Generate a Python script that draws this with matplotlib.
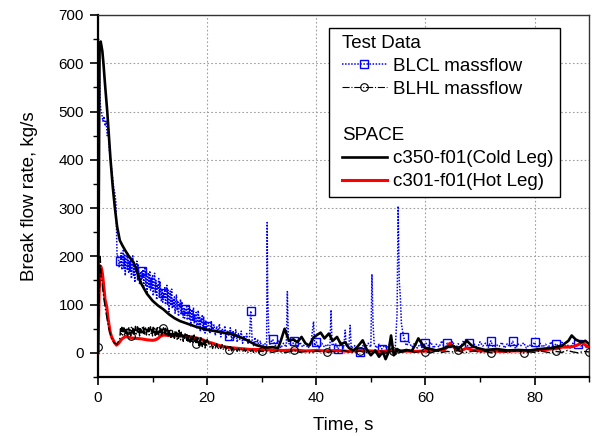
import numpy as np
import matplotlib
matplotlib.use("Agg")
import matplotlib.pyplot as plt
from matplotlib.lines import Line2D
from matplotlib.text import Text
from matplotlib.legend_handler import HandlerLine2D
from matplotlib.ticker import MultipleLocator

plt.rcParams['font.family'] = ['Liberation Sans', 'DejaVu Sans']

# ---- test data: BLCL massflow (blue, noisy) ----
t_blcl_a = [0, 0.1, 0.2, 0.3, 0.4, 0.5, 0.7, 0.9, 1.1, 1.3, 1.5, 1.7, 1.9, 2.1, 2.3, 2.5, 2.7, 2.9, 3.1, 3.3, 3.5]
v_blcl_a = [10, 650, 610, 560, 520, 505, 495, 480, 490, 470, 480, 450, 460, 420, 400, 380, 360, 340, 330, 310, 200]
t_blcl_b = np.arange(3.75, 20.001, 0.125)
v_blcl_b = [202, 177, 190, 187, 207, 172, 197, 212,
            175, 205, 160, 193, 203, 173, 207, 167,
            191, 168, 196, 154, 181, 201, 161, 186,
            146, 178, 170, 190, 150, 184, 160, 142,
            168, 143, 170, 153, 173, 138, 163, 178,
            138, 168, 123, 156, 166, 136, 170, 130,
            155, 132, 160, 118, 145, 165, 125, 150,
            110, 142, 134, 154, 114, 148, 124, 106,
            130, 105, 125, 115, 135, 100, 125, 140,
            100, 130, 85, 118, 128, 98, 132, 92,
            112, 94, 116, 82, 104, 120, 88, 108,
            76, 102, 95, 111, 79, 106, 87, 73,
            92, 72, 90, 80, 96, 68, 88, 100,
            68, 92, 56, 82, 90, 66, 94, 62,
            80, 62, 84, 50, 72, 88, 56, 76,
            44, 70, 63, 79, 47, 74, 55, 41,
            66, 48, 55]
t_blcl_c = np.arange(20.25, 30.001, 0.25)
v_blcl_c = [62, 40, 66, 45, 58, 36, 55, 42, 60, 33,
            50, 38, 56, 30, 47, 35, 52, 26, 44, 30,
            48, 22, 40, 28, 45, 20, 36, 24, 40, 18,
            30, 87, 26, 15, 32, 14, 28, 12, 24, 12]
t_blcl_d = [30.5, 30.9, 31.0, 31.1, 31.3, 31.5, 32.0, 32.5, 33.0, 33.5, 34.0, 34.5,
            34.7, 34.9, 35.5, 36.0, 36.5, 37.0, 37.5, 38.0, 38.5, 39.0, 39.5, 39.7,
            40.0, 40.5, 41.0, 41.5, 42.0, 42.5, 42.7, 42.9, 43.5, 44.0, 44.5, 45.0,
            45.3, 45.5, 46.0, 46.2, 46.4, 47.0, 47.5, 48.0, 48.5, 49.0, 49.5, 50.0,
            50.2, 50.4, 50.6, 51.0, 51.5, 52.0, 52.5, 53.0, 53.5, 54.0, 54.5, 54.8,
            55.0, 55.2, 55.4, 55.6, 56.0, 56.5, 57.0, 57.5, 58.0, 58.5, 59.0, 59.5, 60.0]
v_blcl_d = [20, 15, 270, 120, 40, 18, 28, 15, 25, 10, 20, 12,
            127, 20, 15, 25, 10, 22, 12, 20, 10, 18, 65, 15,
            22, 10, 20, 12, 18, 10, 89, 15, 20, 8, 22, 10,
            47, 12, 18, 57, 10, 15, 8, 2, 15, 10, 20, 12,
            163, 60, 20, 10, 18, 8, 15, 10, 20, 12, 15, 80,
            304, 150, 116, 60, 33, 15, 22, 12, 20, 10, 18, 12, 21]
t_blcl_e = np.arange(60.5, 90.01, 0.5)
v_blcl_e = [15, 22, 10, 18, 12, 25, 9, 20, 14, 24,
            8, 19, 13, 26, 10, 21, 12, 18, 9, 23,
            14, 20, 11, 25, 8, 17, 13, 22, 10, 19,
            12, 24, 9, 18, 15, 21, 10, 17, 13, 22,
            8, 20, 12, 18, 10, 23, 14, 19, 11, 22,
            13, 17, 10, 20, 12, 18, 14, 21, 11, 15]

# ---- test data: BLHL massflow (black, thin) ----
t_blhl_a = [0, 0.2, 0.4, 0.6, 0.8, 1.0, 1.3, 1.6, 2.0, 2.5, 3.0, 3.5, 4.0]
v_blhl_a = [12, 100, 200, 160, 140, 120, 95, 75, 50, 30, 20, 18, 30]
t_blhl_b = np.arange(4.125, 20.001, 0.125)
v_blhl_b = [50, 39, 53, 37, 46, 52, 35, 48,
            41, 52, 37, 50, 54, 39, 48, 35,
            53, 42, 51, 36, 49, 38, 55, 40,
            38, 54, 43, 51, 35, 50, 41, 53,
            52, 41, 55, 39, 48, 54, 37, 50,
            41, 52, 37, 50, 54, 39, 48, 35,
            53, 42, 51, 36, 49, 38, 55, 40,
            37, 53, 42, 50, 34, 49, 40, 52,
            48, 37, 51, 35, 44, 50, 33, 46,
            36, 47, 32, 45, 49, 34, 43, 30,
            45, 34, 43, 28, 41, 30, 47, 32,
            27, 43, 32, 40, 24, 39, 30, 42,
            37, 26, 40, 24, 33, 39, 22, 35,
            24, 35, 20, 33, 37, 22, 31, 18,
            32, 21, 30, 15, 28, 17, 34, 19,
            13, 29, 18, 26, 10, 25, 16, 28]
t_blhl_c = np.arange(20.25, 30.001, 0.25)
v_blhl_c = [22, 12, 20, 9, 18, 10, 19, 7, 15, 9,
            17, 6, 14, 8, 13, 5, 12, 4, 11, 6,
            10, 3, 9, 4, 8, 2, 9, 3, 7, 1,
            6, 3, 7, 1, 5, 2, 6, 0, 4, 3]
t_blhl_d = np.arange(31, 90.01, 1)
v_blhl_d = [3, 1, 4, 0, 2, 5, 1, 3, 0, 4, 2, 1, 3, 0, 5, 2, 1, 4, 0, 3,
            2, 4, 1, 3, 0, 2, 5, 1, 3, 2, 0, 4, 1, 3, 2, 5, 0, 2, 4, 1,
            3, 0, 2, 4, 1, 3, 5, 0, 2, 1, 4, 2, 0, 3, 1, 5, 2, 0, 3, 2]

# ---- SPACE: c350-f01 (cold leg) ----
t_c350 = [0, 0.3, 0.5, 0.8, 1.0, 1.3, 1.7, 2.0, 2.3, 2.7, 3.1, 3.5, 4.0, 4.5, 5.0, 5.5, 6.0, 6.5,
          7.0, 7.4, 8.0, 9.0, 10.0, 11.0, 12.0, 13.0, 14.0, 15.0, 16.0, 17.0, 18.0, 19.0, 20.0,
          21, 22, 23, 24, 25, 26, 27, 28, 29, 30, 31, 32, 33, 33.5, 34.2, 35, 35.8, 36.5, 37.3,
          38, 38.7, 39.5, 40, 40.8, 41.5, 42.3, 43, 43.8, 44.5, 45.3, 46, 46.8, 47.5, 48.5, 49.2,
          50, 50.8, 51.5, 52.2, 52.7, 53.2, 53.7, 54.2, 54.8, 55.5, 56.5, 57.5, 58.2, 58.7, 59.3,
          60, 61, 62, 63, 64, 65, 66, 67, 67.6, 68.5, 69.5, 71, 73, 75, 77, 79, 81, 83, 85,
          86.2, 86.8, 87.5, 88.5, 89.3, 90]
v_c350 = [0, 640, 645, 625, 600, 555, 500, 450, 400, 345, 300, 262, 233, 222, 212, 203, 195, 188,
          175, 158, 142, 122, 108, 98, 90, 80, 72, 66, 62, 58, 54, 51, 48,
          46, 44, 42, 40, 37, 33, 28, 22, 16, 13, 11, 12, 10, 25, 50, 25, 28, 22, 33,
          20, 15, 32, 36, 42, 30, 40, 25, 33, 18, 22, 10, 5, 12, 26, 8,
          -5, 5, -8, 2, -13, 0, 36, -5, 8, 3, 6, 4, 18, 30, 20,
          10, 8, 5, 8, 12, 15, 8, 18, 25, 15, 10, 6, 8, 5, 6, 5, 8, 10, 15,
          25, 36, 28, 22, 25, 18]

# ---- SPACE: c301-f01 (hot leg) ----
t_c301 = [0, 0.2, 0.4, 0.6, 0.8, 1.0, 1.3, 1.6, 1.8, 2.2, 2.5, 3.0, 3.4, 3.8, 4.3, 5.0, 5.5, 6.0,
          7.0, 8.0, 9.0, 10.0, 10.5, 11.0, 11.5, 12.0, 13.0, 14.0, 15.0, 16.0, 17.0, 18.0, 19.0, 20.0,
          21, 22, 23, 24, 25, 26, 27, 28, 30, 32, 34, 36, 38, 40, 42, 44, 46, 48, 50, 52, 54, 56,
          58, 60, 62, 63.5, 64.5, 65.5, 66.5, 67.5, 68.5, 70, 72, 74, 76, 78, 80, 82, 84, 85, 86,
          87, 88, 88.7, 89.5, 90]
v_c301 = [0, 120, 180, 177, 165, 145, 110, 96, 75, 45, 33, 22, 16, 20, 28, 34, 33, 31,
          30, 29, 27, 26, 27, 30, 35, 37, 36, 35, 35, 34, 33, 31, 28, 23,
          20, 16, 13, 11, 10, 9, 8, 7, 7, 6, 5, 6, 4, 5, 4, 5, 3, 5, 4, 3, 5, 4,
          3, 4, 5, 6, 20, 8, 4, 10, 6, 4, 4, 3, 4, 4, 5, 7, 9, 12, 12,
          13, 17, 22, 14, 12]

t_blcl = np.concatenate([t_blcl_a, t_blcl_b, t_blcl_c, t_blcl_d, t_blcl_e])
v_blcl = np.concatenate([v_blcl_a, v_blcl_b, v_blcl_c, v_blcl_d, v_blcl_e])
t_blhl = np.concatenate([t_blhl_a, t_blhl_b, t_blhl_c, t_blhl_d])
v_blhl = np.concatenate([v_blhl_a, v_blhl_b, v_blhl_c, v_blhl_d])

# marker every 4 s (BLCL) and 6 s (BLHL)
mk_blcl = [i for i, t in enumerate(t_blcl) if t > 0 and abs(round(t, 3) % 4) < 1e-6]
mk_blhl = [i for i, t in enumerate(t_blhl) if abs(round(t, 3) % 6) < 1e-6]

blue = '#0000ff'
red = '#ff0000'
blue_ls = (0, (1, 1))

fig = plt.figure(figsize=(5.92, 4.36), dpi=100)
ax = fig.add_axes([0.1655, 0.1353, 0.8297, 0.8303])

ax.plot(t_blcl, v_blcl, color=blue, ls=blue_ls, lw=1.1, marker='s', ms=5.5,
        mfc='none', mec=blue, mew=1.0, markevery=mk_blcl, zorder=2)
ax.plot(t_c301, v_c301, color=red, lw=2.2, zorder=3)
ax.plot(t_c350, v_c350, color='black', lw=1.9, zorder=4)
ax.plot(t_blhl, v_blhl, color='black', ls='-.', lw=1.0, marker='o', ms=5.5,
        mfc='none', mec='black', mew=0.8, markevery=mk_blhl, zorder=5)

ax.set_xlim(0, 90)
ax.set_ylim(-50, 700)
ax.xaxis.set_major_locator(MultipleLocator(20))
ax.xaxis.set_minor_locator(MultipleLocator(10))
ax.yaxis.set_major_locator(MultipleLocator(100))
ax.yaxis.set_minor_locator(MultipleLocator(50))
ax.grid(True, which='major', color='#a0a0a0', ls=(0, (1.5, 2)), lw=0.8)
ax.tick_params(which='major', direction='out', length=6, width=1.2, labelsize=11, pad=4)
ax.tick_params(which='minor', direction='out', length=3.5, width=1.0)
for s in ['left', 'bottom']:
    ax.spines[s].set_linewidth(1.6)
for s in ['top', 'right']:
    ax.spines[s].set_linewidth(1.0)
    ax.spines[s].set_color('#333333')

ax.set_xlabel('Time, s', fontsize=13.5, labelpad=8)
ax.set_ylabel('Break flow rate, kg/s', fontsize=13.5, labelpad=15)

XPAD = 0.35


class HeaderHandler:
    def __init__(self, text):
        self.text = text

    def legend_artist(self, legend, orig_handle, fontsize, handlebox):
        txt = Text(XPAD * fontsize, 0, self.text, fontsize=fontsize, va='baseline', ha='left')
        handlebox.add_artist(txt)
        return txt


h_test = Line2D([], [])
h_blank = Line2D([], [])
h_space = Line2D([], [])
h_blcl = Line2D([], [], color=blue, ls=blue_ls, lw=1.1, marker='s', ms=5.5, mfc='none', mec=blue)
h_blhl = Line2D([], [], color='black', ls='-.', lw=0.8, marker='o', ms=5.5, mfc='none', mec='black', mew=0.8)
h_c350 = Line2D([], [], color='black', lw=1.9)
h_c301 = Line2D([], [], color=red, lw=2.2)

leg = ax.legend([h_test, h_blcl, h_blhl, h_blank, h_space, h_c350, h_c301],
                [' ', 'BLCL massflow', 'BLHL massflow', ' ', ' ', 'c350-f01(Cold Leg)', 'c301-f01(Hot Leg)'],
                handler_map={h_test: HeaderHandler('Test Data'), h_blank: HeaderHandler(''),
                             h_space: HeaderHandler('SPACE'), Line2D: HandlerLine2D(xpad=XPAD)},
                loc='upper right', bbox_to_anchor=(0.9406, 0.964), borderaxespad=0,
                fontsize=13.5, numpoints=1, fancybox=False, framealpha=1, edgecolor='black',
                borderpad=0.35, labelspacing=0.32, handlelength=2.75, handletextpad=0.32)
leg.get_frame().set_linewidth(1.0)
leg.set_zorder(10)

fig.savefig('out.png', dpi=100)
